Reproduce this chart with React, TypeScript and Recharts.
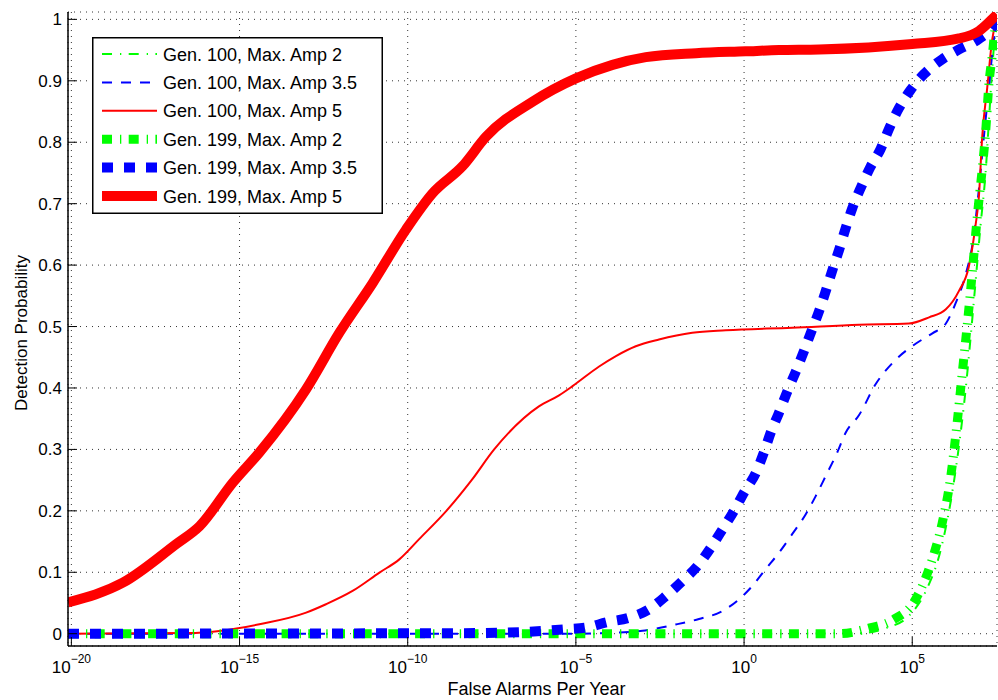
import { LineChart, Line, XAxis, YAxis, CartesianGrid, Legend } from "recharts";

// x values are log10(false alarms per year)
const gen100Amp2 = [
    { x: -20.1, y: 0 }, { x: 0, y: 0 }, { x: 3.5, y: 0.001 }, { x: 4.21, y: 0.009 }, { x: 4.9, y: 0.029 },
    { x: 5.4, y: 0.069 }, { x: 5.84, y: 0.135 }, { x: 6.14, y: 0.214 }, { x: 6.39, y: 0.306 }, { x: 6.59, y: 0.399 },
    { x: 6.74, y: 0.485 }, { x: 6.88, y: 0.571 }, { x: 7.03, y: 0.664 }, { x: 7.18, y: 0.75 }, { x: 7.28, y: 0.835 },
    { x: 7.38, y: 0.921 }, { x: 7.48, y: 0.981 }, { x: 7.52, y: 0.985 },
];

const gen100Amp35 = [
    { x: -20.1, y: 0 }, { x: -5, y: 0 }, { x: -3.71, y: 0.002 }, { x: -3.02, y: 0.005 }, { x: -2.03, y: 0.015 },
    { x: -1.34, y: 0.024 }, { x: -0.64, y: 0.037 }, { x: -0.15, y: 0.056 }, { x: 0.25, y: 0.078 }, { x: 0.64, y: 0.105 },
    { x: 1.04, y: 0.132 }, { x: 1.43, y: 0.162 }, { x: 1.83, y: 0.194 }, { x: 2.13, y: 0.224 }, { x: 2.43, y: 0.257 },
    { x: 2.77, y: 0.295 }, { x: 3.02, y: 0.327 }, { x: 3.42, y: 0.356 }, { x: 3.91, y: 0.406 }, { x: 4.51, y: 0.446 },
    { x: 5.1, y: 0.472 }, { x: 5.6, y: 0.489 }, { x: 6.0, y: 0.505 }, { x: 6.29, y: 0.538 }, { x: 6.59, y: 0.585 },
    { x: 6.8, y: 0.637 }, { x: 6.98, y: 0.723 }, { x: 7.13, y: 0.809 }, { x: 7.28, y: 0.889 }, { x: 7.43, y: 0.968 },
    { x: 7.52, y: 0.99 },
];

const gen100Amp5 = [
    { x: -20.1, y: 0 }, { x: -16.5, y: 0.001 }, { x: -15.6, y: 0.0046 }, { x: -14.41, y: 0.0154 }, { x: -13.02, y: 0.0344 },
    { x: -12.43, y: 0.048 }, { x: -11.64, y: 0.0696 }, { x: -10.84, y: 0.0995 }, { x: -10.25, y: 0.121 }, { x: -9.66, y: 0.154 },
    { x: -8.85, y: 0.2 }, { x: -8.1, y: 0.25 }, { x: -7.43, y: 0.3 }, { x: -6.1, y: 0.37 }, { x: -5.5, y: 0.388 },
    { x: -5.1, y: 0.403 }, { x: -4.31, y: 0.435 }, { x: -3.81, y: 0.452 }, { x: -3.22, y: 0.468 }, { x: -2.53, y: 0.479 },
    { x: -1.54, y: 0.49 }, { x: -0.54, y: 0.494 }, { x: 1.43, y: 0.498 }, { x: 3.42, y: 0.503 }, { x: 4.9, y: 0.505 },
    { x: 5.5, y: 0.515 }, { x: 6.0, y: 0.528 }, { x: 6.39, y: 0.558 }, { x: 6.68, y: 0.597 }, { x: 6.88, y: 0.664 },
    { x: 6.98, y: 0.71 }, { x: 7.08, y: 0.809 }, { x: 7.23, y: 0.889 }, { x: 7.38, y: 0.968 }, { x: 7.48, y: 0.994 },
    { x: 7.52, y: 1.0 },
];

const gen199Amp2 = [
    { x: -20.1, y: 0 }, { x: 2.82, y: 0 }, { x: 3.71, y: 0.009 }, { x: 4.41, y: 0.022 }, { x: 5.1, y: 0.056 },
    { x: 5.6, y: 0.122 }, { x: 5.89, y: 0.18 }, { x: 6.14, y: 0.254 }, { x: 6.34, y: 0.346 }, { x: 6.49, y: 0.426 },
    { x: 6.64, y: 0.505 }, { x: 6.79, y: 0.591 }, { x: 6.93, y: 0.677 }, { x: 7.08, y: 0.756 }, { x: 7.18, y: 0.815 },
    { x: 7.28, y: 0.895 }, { x: 7.38, y: 0.941 }, { x: 7.48, y: 0.988 }, { x: 7.52, y: 0.99 },
];

const gen199Amp35 = [
    { x: -20.1, y: 0 }, { x: -8, y: 0.001 }, { x: -6.5, y: 0.003 }, { x: -5.3, y: 0.0073 }, { x: -4.7, y: 0.01 },
    { x: -4.06, y: 0.019 }, { x: -3.42, y: 0.026 }, { x: -2.82, y: 0.04 }, { x: -2.33, y: 0.061 }, { x: -1.83, y: 0.086 },
    { x: -1.39, y: 0.11 }, { x: -0.99, y: 0.14 }, { x: -0.64, y: 0.17 }, { x: -0.3, y: 0.2 }, { x: 0, y: 0.23 },
    { x: 0.35, y: 0.262 }, { x: 0.59, y: 0.295 }, { x: 0.79, y: 0.327 }, { x: 1.04, y: 0.36 }, { x: 1.29, y: 0.395 },
    { x: 1.54, y: 0.427 }, { x: 1.78, y: 0.46 }, { x: 2.0, y: 0.492 }, { x: 2.23, y: 0.525 }, { x: 2.43, y: 0.558 },
    { x: 2.62, y: 0.591 }, { x: 2.82, y: 0.624 }, { x: 3.02, y: 0.66 }, { x: 3.22, y: 0.693 }, { x: 3.47, y: 0.726 },
    { x: 3.76, y: 0.76 }, { x: 4.06, y: 0.789 }, { x: 4.31, y: 0.822 }, { x: 4.6, y: 0.855 }, { x: 4.95, y: 0.885 },
    { x: 5.35, y: 0.911 }, { x: 5.89, y: 0.935 }, { x: 6.39, y: 0.951 }, { x: 6.98, y: 0.968 }, { x: 7.43, y: 0.991 },
    { x: 7.52, y: 1.0 },
];

const gen199Amp5 = [
    { x: -20.1, y: 0.051 }, { x: -18.47, y: 0.083 }, { x: -16.88, y: 0.146 }, { x: -16.19, y: 0.175 }, { x: -15.2, y: 0.246 },
    { x: -14.41, y: 0.295 }, { x: -13.02, y: 0.398 }, { x: -12.03, y: 0.49 }, { x: -11.04, y: 0.571 }, { x: -10.05, y: 0.658 },
    { x: -9.26, y: 0.717 }, { x: -8.37, y: 0.761 }, { x: -7.67, y: 0.809 }, { x: -6.29, y: 0.866 }, { x: -5.0, y: 0.904 },
    { x: -3.91, y: 0.926 }, { x: -2.92, y: 0.9385 }, { x: -1.43, y: 0.945 }, { x: 0.05, y: 0.948 }, { x: 1.04, y: 0.95 },
    { x: 2.23, y: 0.951 }, { x: 5.0, y: 0.96 }, { x: 6.39, y: 0.969 }, { x: 6.98, y: 0.981 }, { x: 7.37, y: 1.0 },
    { x: 7.52, y: 1.008 },
];

const xTicks = [-20, -15, -10, -5, 0, 5];
const yTicks = [0, 0.1, 0.2, 0.3, 0.4, 0.5, 0.6, 0.7, 0.8, 0.9, 1];
const yTickLabels = ["0", "0.1", "0.2", "0.3", "0.4", "0.5", "0.6", "0.7", "0.8", "0.9", "1"];

const FONT = '"Liberation Sans", Arial, Helvetica, sans-serif';

const series = [
    { name: "Gen. 100, Max. Amp 2", data: gen100Amp2, color: "#00ff00", width: 2, dash: "10 8 1.3 7.4" },
    { name: "Gen. 100, Max. Amp 3.5", data: gen100Amp35, color: "#0000ff", width: 2, dash: "10 9" },
    { name: "Gen. 100, Max. Amp 5", data: gen100Amp5, color: "#ff0000", width: 2, dash: undefined },
    { name: "Gen. 199, Max. Amp 2", data: gen199Amp2, color: "#00ff00", width: 9, dash: "10 8 1.3 7.4" },
    { name: "Gen. 199, Max. Amp 3.5", data: gen199Amp35, color: "#0000ff", width: 10, dash: "11 11" },
    { name: "Gen. 199, Max. Amp 5", data: gen199Amp5, color: "#ff0000", width: 10, dash: undefined },
];

const BottomTick = ({ x, y, payload }: any) => {
    const exp = payload.value < 0 ? "\u2212" + Math.abs(payload.value) : String(payload.value);
    return (
        <g>
            <line x1={x} y1={y} x2={x} y2={y - 9} stroke="#000" />
            <text x={x} y={y + 27} textAnchor="middle" fontSize={17} fontFamily={FONT} fill="#000">
                10<tspan dy={-10} fontSize={12}>{exp}</tspan>
            </text>
        </g>
    );
};

const TopTick = ({ x, y }: any) => <line x1={x} y1={y} x2={x} y2={y + 9} stroke="#000" />;

const LeftTick = ({ x, y, index }: any) => (
    <g>
        <line x1={x} y1={y} x2={x + 9} y2={y} stroke="#000" />
        <text x={x - 6} y={y + 6} textAnchor="end" fontSize={17} fontFamily={FONT} fill="#000">
            {yTickLabels[index]}
        </text>
    </g>
);

const RightTick = ({ x, y }: any) => <line x1={x} y1={y} x2={x - 9} y2={y} stroke="#000" />;

const LegendBox = () => (
    <svg width={291} height={177} style={{ display: "block" }}>
        <rect x={0.75} y={0.75} width={289.5} height={175.5} fill="#fff" stroke="#000" strokeWidth={1.5} />
        {series.map((s, i) => {
            const cy = 17 + i * 28.4;
            return (
                <g key={s.name}>
                    <line x1={10} x2={65} y1={cy} y2={cy} stroke={s.color} strokeWidth={s.width} strokeDasharray={s.dash} />
                    <text x={71} y={cy + 6.5} fontSize={18} fontFamily={FONT} fill="#000">{s.name}</text>
                </g>
            );
        })}
    </svg>
);

export default function App() {
    return (
        <div style={{ position: "absolute", left: 0, top: 0, background: "#fff" }}>
            <LineChart width={998} height={700} margin={{ top: 12, right: 1, left: 0, bottom: 0 }}>
                <CartesianGrid xAxisId="x" yAxisId="y" stroke="#333" strokeDasharray="1 5" />
                <XAxis
                    xAxisId="x"
                    type="number"
                    dataKey="x"
                    domain={[-20.1, 7.52]}
                    allowDataOverflow
                    ticks={xTicks}
                    height={54}
                    tickSize={0}
                    tickMargin={0}
                    tickLine={false}
                    axisLine={{ stroke: "#000", strokeWidth: 1.5 }}
                    tick={<BottomTick />}
                    interval={0}
                    label={({ viewBox }: any) => (
                        <text x={viewBox.x + viewBox.width / 2 + 4} y={695} textAnchor="middle" fontSize={18} fontFamily={FONT} fill="#000">
                            False Alarms Per Year
                        </text>
                    )}
                />
                <XAxis
                    xAxisId="top"
                    orientation="top"
                    type="number"
                    domain={[-20.1, 7.52]}
                    allowDataOverflow
                    ticks={xTicks}
                    height={0}
                    tickSize={0}
                    tickMargin={0}
                    tickLine={false}
                    axisLine={{ stroke: "#000", strokeWidth: 1.5 }}
                    tick={<TopTick />}
                    interval={0}
                />
                <YAxis
                    yAxisId="y"
                    type="number"
                    dataKey="y"
                    domain={[-0.02, 1.012]}
                    allowDataOverflow
                    ticks={yTicks}
                    width={68}
                    tickSize={0}
                    tickMargin={0}
                    tickLine={false}
                    axisLine={{ stroke: "#000", strokeWidth: 1.5 }}
                    tick={<LeftTick />}
                    interval={0}
                    label={({ viewBox }: any) => {
                        const cy = viewBox.y + viewBox.height / 2 + 4;
                        return (
                            <text x={27} y={cy} transform={`rotate(-90, 27, ${cy})`} textAnchor="middle" fontSize={17} fontFamily={FONT} fill="#000">
                                Detection Probability
                            </text>
                        );
                    }}
                />
                <YAxis
                    yAxisId="right"
                    orientation="right"
                    type="number"
                    domain={[-0.02, 1.012]}
                    allowDataOverflow
                    ticks={yTicks}
                    width={0}
                    tickSize={0}
                    tickMargin={0}
                    tickLine={false}
                    axisLine={{ stroke: "#000", strokeWidth: 1.5 }}
                    tick={<RightTick />}
                    interval={0}
                />
                {series.map((s) => (
                    <Line
                        key={s.name}
                        xAxisId="x"
                        yAxisId="y"
                        data={s.data}
                        dataKey="y"
                        name={s.name}
                        type="monotone"
                        stroke={s.color}
                        strokeWidth={s.width}
                        strokeDasharray={s.dash}
                        strokeLinecap="butt"
                        dot={false}
                        activeDot={false}
                        isAnimationActive={false}
                    />
                ))}
                <Legend
                    layout="vertical"
                    align="center"
                    verticalAlign="middle"
                    content={<LegendBox />}
                    wrapperStyle={{ position: "absolute", left: 92, top: 37, width: 291, height: 177 }}
                />
            </LineChart>
        </div>
    );
}
